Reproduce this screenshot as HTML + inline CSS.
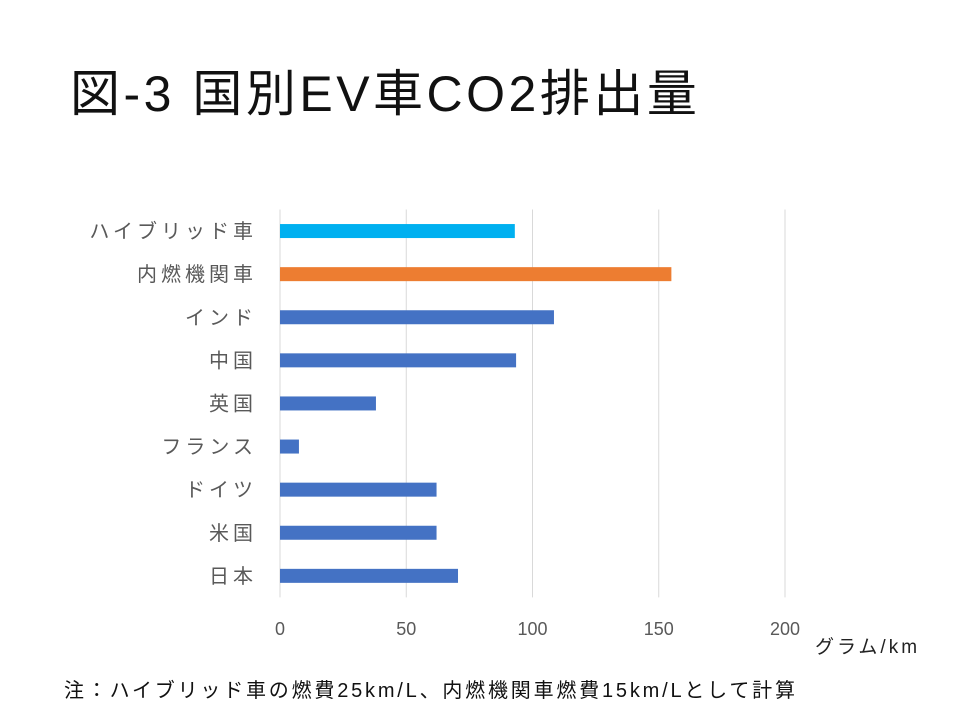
<!DOCTYPE html>
<html><head><meta charset="utf-8"><style>
body{margin:0;background:#fff;}
#wrap{position:relative;width:960px;height:720px;overflow:hidden;font-family:"Liberation Sans","Noto Sans CJK JP",sans-serif;}
.t{position:absolute;white-space:nowrap;}
</style></head><body>
<div id="wrap">
<div class="t" style="left:70px;top:54px;font-size:50px;letter-spacing:3.5px;color:#111;">図-3 国別EV車CO2排出量</div>
<svg id="chart" width="960" height="720" style="position:absolute;left:0;top:0;"></svg>
<div class="t" style="left:64px;top:674px;font-size:20px;letter-spacing:2.8px;color:#111;">注：ハイブリッド車の燃費25km/L、内燃機関車燃費15km/Lとして計算</div>
</div>
<script>
const categories=["ハイブリッド車","内燃機関車","インド","中国","英国","フランス","ドイツ","米国","日本"];
const values=[93,155,108.5,93.5,38,7.5,62,62,70.5];
const colors=["#00B0F0","#ED7D31","#4472C4","#4472C4","#4472C4","#4472C4","#4472C4","#4472C4","#4472C4"];
const ticks=[0,50,100,150,200];
const ns="http://www.w3.org/2000/svg";
const svg=document.getElementById('chart');
const x0=280,pxPer=2.525,top0=209.5,rowH=43.1,barH=14;
const xs=v=>x0+v*pxPer;
const yc=i=>top0+rowH*(i+0.5);
function mk(t,a){const e=document.createElementNS(ns,t);for(const k in a)e.setAttribute(k,a[k]);svg.appendChild(e);return e;}
ticks.forEach(t=>{
 const l=mk('line',{x1:xs(t),x2:xs(t),y1:top0,y2:top0+rowH*9,stroke:'#d9d9d9','stroke-width':1});
 
 
 const tx=mk('text',{x:xs(t),y:635,'text-anchor':'middle','font-size':18,fill:'#595959','font-family':'Liberation Sans, sans-serif'});
 tx.textContent=t;
 
 
});
categories.forEach((c,i)=>{
 const r=mk('rect',{x:xs(0),y:yc(i)-barH/2,width:xs(values[i])-xs(0),height:barH,fill:colors[i]});
 
 
 const tx=mk('text',{x:257,y:yc(i)+7,'text-anchor':'end','font-size':20,'letter-spacing':'4px',fill:'#595959','font-family':'Liberation Sans, Noto Sans CJK JP, sans-serif'});
 tx.textContent=c;
 
 
});
const u=mk('text',{x:815,y:653,'font-size':19,'letter-spacing':'3px',fill:'#222','font-family':'Liberation Sans, Noto Sans CJK JP, sans-serif'});
u.textContent='グラム/km';


</script>
</body></html>
